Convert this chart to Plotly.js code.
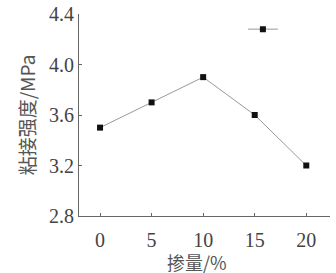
<!DOCTYPE html>
<html><head><meta charset="utf-8">
<script src="https://cdn.plot.ly/plotly-3.0.1.min.js"></script>
<style>html,body{margin:0;padding:0;background:#fff}</style>
</head><body><div id="c" style="width:336px;height:273px"></div>
<script>
const dosage = [0, 5, 10, 15, 20];
const strength = [3.5, 3.7, 3.9, 3.6, 3.2];
const xTicks = [0, 5, 10, 15, 20];
const yTicks = [2.8, 3.2, 3.6, 4.0, 4.4];
const yTickText = ['2.8', '3.2', '3.6', '4.0', '4.4'];
const xTitle = '掺量/%';
const yTitle = '粘接强度/MPa';

const font = {family: '"Liberation Serif", "Noto Sans CJK SC", serif', size: 20, color: '#444'};
const titleFont = {family: '"Noto Sans CJK SC", serif', size: 19, color: '#555'};
Plotly.newPlot('c', [{
  x: dosage, y: strength, type: 'scatter', mode: 'lines+markers', name: '',
  line: {color: '#999', width: 1},
  marker: {symbol: 'square', size: 6, color: '#111'},
  showlegend: true
}], {
  width: 336, height: 273,
  margin: {l: 79, r: 6, t: 14, b: 57},
  paper_bgcolor: '#fff', plot_bgcolor: '#fff',
  font: font,
  showlegend: true,
  legend: {x: 0.653, y: 0.925, xanchor: 'left', yanchor: 'middle', bgcolor: 'rgba(0,0,0,0)', itemwidth: 30, font: {size: 10}},
  xaxis: {
    range: [-2.04, 22.3], tickvals: xTicks, ticktext: xTicks.map(String),
    ticks: 'inside', ticklen: 3, tickcolor: '#666', showline: true, linecolor: '#666', linewidth: 1,
    showgrid: false, zeroline: false, mirror: false, ticklabelstandoff: 6
  },
  yaxis: {
    range: [2.8, 4.4], tickvals: yTicks, ticktext: yTickText,
    ticks: 'inside', ticklen: 3, tickcolor: '#666', showline: true, linecolor: '#666', linewidth: 1,
    showgrid: false, zeroline: false, mirror: false,
    title: {text: yTitle, font: titleFont, standoff: 8}
  },
  annotations: [{
    text: xTitle, xref: 'paper', yref: 'paper', x: 0.47, y: -0.2277, borderpad: 0,
    xanchor: 'center', yanchor: 'middle', showarrow: false,
    font: {family: titleFont.family, size: 18, color: titleFont.color}
  }]
}, {displayModeBar: false, staticPlot: true});
</script></body></html>
